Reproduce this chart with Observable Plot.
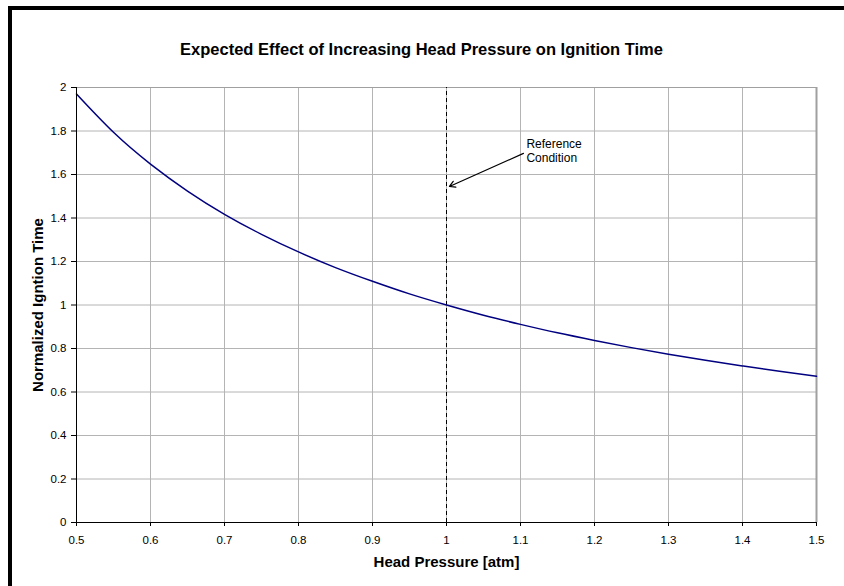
<!DOCTYPE html>
<html><head><meta charset="utf-8">
<script src="https://cdn.jsdelivr.net/npm/d3@7"></script>
<script src="https://cdn.jsdelivr.net/npm/@observablehq/plot@0.6"></script>
<style>
body{margin:0;background:#fff;}
#wrap{position:relative;width:844px;height:586px;overflow:hidden;}
#frame{position:absolute;left:8px;top:6px;width:2000px;height:2000px;border-top:4px solid #000;border-left:4px solid #000;pointer-events:none;}
</style></head><body><div id="wrap"><div id="frame"></div></div>
<script>
// Data
const headPressure = [0.50,0.55,0.60,0.65,0.70,0.75,0.80,0.85,0.90,0.95,1.00,1.05,1.10,1.15,1.20,1.25,1.30,1.35,1.40,1.45,1.50];
const ignitionTime = [1.97,1.794,1.648,1.524,1.417,1.325,1.244,1.172,1.109,1.051,1.000,0.953,0.911,0.872,0.837,0.804,0.774,0.746,0.720,0.695,0.672];
const xTicks = [0.5,0.6,0.7,0.8,0.9,1,1.1,1.2,1.3,1.4,1.5];
const yTicks = [0,0.2,0.4,0.6,0.8,1,1.2,1.4,1.6,1.8,2];
const referencePressure = [1];
const annotationLabel = ["Reference\nCondition"];
const annotationTextAt = [{x:1.108, y:1.71}];
const annotationArrow = [{x1:1.104, y1:1.697, x2:1.004, y2:1.545}];
const chartTitle = ["Expected Effect of Increasing Head Pressure on Ignition Time"];
const xTitle = ["Head Pressure [atm]"];
const yTitle = ["Normalized Igntion Time"];

const data = headPressure.map((p,i)=>({p, t: ignitionTime[i]}));
const font = "'Liberation Sans', Arial, sans-serif";

const chart = Plot.plot({
  width: 844, height: 586,
  marginLeft: 76, marginRight: 28, marginTop: 87, marginBottom: 64,
  style: {fontFamily: font, fontSize: "11.5px", color: "#000", background: "transparent"},
  x: {domain: [0.5, 1.5]},
  y: {domain: [0, 2]},
  marks: [
    Plot.gridX(xTicks, {stroke: "#b4b4b4", strokeOpacity: 1}),
    Plot.gridY(yTicks, {stroke: "#b4b4b4", strokeOpacity: 1}),
    Plot.ruleY([2], {stroke: "#a0a0a0"}),
    Plot.ruleX([1.5], {stroke: "#a0a0a0", strokeWidth: 2}),
    Plot.ruleX(referencePressure, {y1: 0, y2: 2, stroke: "#000", strokeDasharray: "4,3"}),
    Plot.line(data, {x: "p", y: "t", stroke: "#000080", strokeWidth: 1.5, curve: "natural"}),
    Plot.arrow(annotationArrow, {x1: "x1", y1: "y1", x2: "x2", y2: "y2", stroke: "#000", strokeWidth: 1.2, headLength: 8}),
    Plot.text(annotationLabel, {x: () => annotationTextAt[0].x, y: () => annotationTextAt[0].y, text: d => d, textAnchor: "start", lineAnchor: "middle", lineHeight: 1.17, fontSize: 12, fill: "#000"}),
    Plot.axisX(xTicks, {tickSize: 4, tickPadding: 9, tickFormat: d => String(d), label: null, stroke: "#000", fill: "#000", fontSize: 11.5}),
    Plot.axisY(yTicks, {tickSize: 5, tickPadding: 5, tickFormat: d => String(d), label: null, stroke: "#000", fill: "#000", fontSize: 11.5}),
    Plot.ruleX([0.5], {stroke: "#000"}),
    Plot.ruleY([0], {stroke: "#000"}),
    Plot.text(chartTitle, {frameAnchor: "top", dx: -25, dy: -44, text: d => d, fontWeight: "bold", fontSize: 16.5, fill: "#000"}),
    Plot.text(xTitle, {frameAnchor: "bottom", dy: 44, text: d => d, fontWeight: "bold", fontSize: 15, fill: "#000"}),
    Plot.text(yTitle, {x: () => 0.5, y: () => 1, dx: -38, rotate: -90, textAnchor: "middle", text: d => d, fontWeight: "bold", fontSize: 15, fill: "#000"})
  ]
});
document.getElementById("wrap").prepend(chart);
</script>
</body></html>
